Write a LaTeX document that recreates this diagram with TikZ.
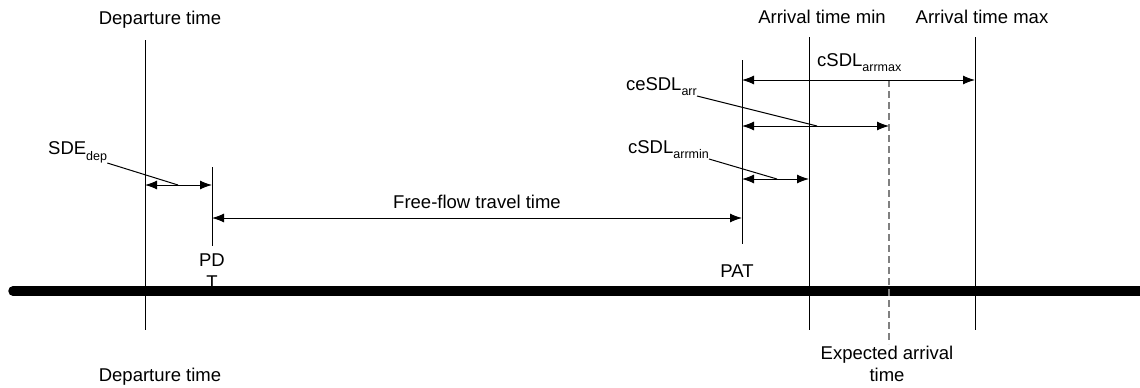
\documentclass[tikz,border=0pt]{standalone}
\usepackage{fontspec}
\setmainfont{Liberation Sans}
\usetikzlibrary{arrows.meta,positioning}
\newcommand{\lowsub}[1]{\raisebox{-0.3em}{\fontsize{12.5}{14}\selectfont #1}}
\tikzset{
  txt/.style={draw=none, inner sep=0pt, font=\fontsize{18.5}{22}\selectfont},
  marker/.style={line width=1pt},
  span/.style={line width=1pt, {Latex[length=12pt,width=9pt]}-{Latex[length=12pt,width=9pt]}},
  leader/.style={line width=1pt},
  axis/.style={line width=9.5pt, line cap=round}
}

\begin{document}
\begin{tikzpicture}[x=1pt,y=-1pt]
    \useasboundingbox (0,0) rectangle (1140,388);

    % time axis
    \coordinate(axl) at (13,291);
    \coordinate(axr) at (1150,291);
    \draw[axis] (axl) -- (axr);

    % vertical markers
    \coordinate(dep0) at (145,40);  \coordinate(dep1) at (145,330);
    \coordinate(pdt0) at (212,167); \coordinate(pdt1) at (212,246);
    \coordinate(pat0) at (742,60);  \coordinate(pat1) at (742,244);
    \coordinate(amin0) at (809,37); \coordinate(amin1) at (809,330);
    \coordinate(amax0) at (975,37); \coordinate(amax1) at (975,330);
    \coordinate(exp0) at (889,80);  \coordinate(exp1) at (889,344);
    \draw[marker] (dep0) -- (dep1);
    \draw[marker] (pdt0) -- (pdt1);
    \draw[marker] (pat0) -- (pat1);
    \draw[marker] (amin0) -- (amin1);
    \draw[marker] (amax0) -- (amax1);
    \draw[line width=1.6pt, gray, dash pattern=on 7pt off 4pt] (exp0) -- (exp1);

    % texts
    \node(dept)[txt] at (160,20) {Departure time};
    \node(depb)[txt] at (160,377) {Departure time};
    \node(amint)[txt] at (822,17) {Arrival time min};
    \node(amaxt)[txt] at (982,17) {Arrival time max};
    \node(pdtt)[txt, align=center] at (212,271) {PD\\T};
    \node(patt)[txt] at (737,271) {PAT};
    \node(expt)[txt, align=center] at (887,364) {Expected arrival\\time};
    \node(fft)[txt] at (477,202) {Free-flow travel time};
    \node(sdel)[txt, anchor=south west] at (48,163) {SDE\lowsub{dep}};
    \node(cmaxl)[txt, anchor=south west] at (817,72) {cSDL\lowsub{arrmax}};
    \node(cel)[txt, anchor=south east] at (697,96) {ceSDL\lowsub{arr}};
    \node(cminl)[txt, anchor=south east] at (709,159) {cSDL\lowsub{arrmin}};

    % spans
    \coordinate(sde0) at (145,185);  \coordinate(sde1) at (212,185);
    \coordinate(ff0) at (212,218);   \coordinate(ff1) at (742,218);
    \coordinate(cmax0) at (742,80);  \coordinate(cmax1) at (975,80);
    \coordinate(ce0) at (742,126);   \coordinate(ce1) at (889,126);
    \coordinate(cmin0) at (742,179); \coordinate(cmin1) at (809,179);
    \draw[span] (sde0) -- (sde1);
    \draw[span] (ff0) -- (ff1);
    \draw[span] (cmax0) -- (cmax1);
    \draw[span] (ce0) -- (ce1);
    \draw[span] (cmin0) -- (cmin1);

    % leaders
    \coordinate(sdem) at (178,185);
    \coordinate(cem) at (817,126);
    \coordinate(cminm) at (777,179);
    \draw[leader] (sdel.south east) -- (sdem);
    \draw[leader] (cel.south east) -- (cem);
    \draw[leader] (cminl.south east) -- (cminm);
\end{tikzpicture}
\end{document}
